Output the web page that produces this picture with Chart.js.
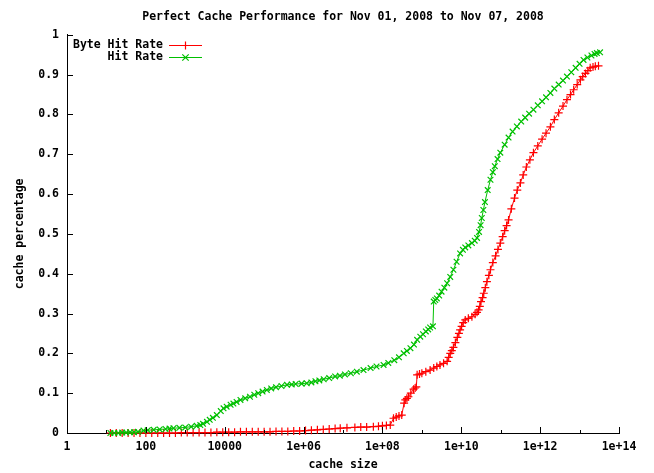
<!DOCTYPE html>
<html><head><meta charset="utf-8">
<script src="https://cdn.jsdelivr.net/npm/chart.js@4.4.1/dist/chart.umd.min.js"></script>
<style>html,body{margin:0;padding:0;background:#fff}#wrap{width:654px;height:473px}</style>
</head><body><div id="wrap"><canvas id="c" width="654" height="473"></canvas></div>
<script>
const chartTitle = 'Perfect Cache Performance for Nov 01, 2008 to Nov 07, 2008';
const xAxisTitle = 'cache size';
const yAxisTitle = 'cache percentage';
const seriesNames = ['Byte Hit Rate', 'Hit Rate'];

const xTickValues = [1,1e1,1e2,1e3,1e4,1e5,1e6,1e7,1e8,1e9,1e10,1e11,1e12,1e13,1e14];
const xTickLabels = ['1','','100','','10000','','1e+06','','1e+08','','1e+10','','1e+12','','1e+14'];
const yTickValues = [0,0.1,0.2,0.3,0.4,0.5,0.6,0.7,0.8,0.9,1];
const yTickLabels = ['0','0.1','0.2','0.3','0.4','0.5','0.6','0.7','0.8','0.9','1'];

const byteHitSize = [
  1.26e1,1.78e1,2.51e1,3.55e1,5.01e1,7.08e1,1e2,1.41e2,2e2,2.82e2,
  3.98e2,5.62e2,7.94e2,1.12e3,1.58e3,2.24e3,3.16e3,4.47e3,6.31e3,8.91e3,
  1.26e4,1.78e4,2.51e4,3.55e4,5.01e4,7.08e4,1e5,1.41e5,2e5,2.82e5,
  3.98e5,5.62e5,7.94e5,1.12e6,1.58e6,2.24e6,3.16e6,4.47e6,6.31e6,8.51e6,
  1.26e7,2e7,2.82e7,3.98e7,5.89e7,7.94e7,1e8,1.26e8,1.58e8,1.91e8,
  2.24e8,2.63e8,3.09e8,3.55e8,3.8e8,4.17e8,4.57e8,5.25e8,6.17e8,6.76e8,
  7.24e8,7.59e8,8.71e8,1e9,1.26e9,1.62e9,2e9,2.4e9,2.88e9,3.55e9,
  4.37e9,4.79e9,5.25e9,5.75e9,6.31e9,7.08e9,7.94e9,8.71e9,9.33e9,1.02e10,
  1.12e10,1.26e10,1.51e10,1.86e10,2.24e10,2.51e10,2.75e10,2.95e10,3.16e10,3.47e10,
  3.72e10,4.07e10,4.47e10,5.01e10,5.5e10,6.31e10,7.41e10,8.51e10,9.77e10,1.12e11,
  1.26e11,1.41e11,1.58e11,1.86e11,2.24e11,2.63e11,3.16e11,3.72e11,4.47e11,5.5e11,
  6.76e11,8.71e11,1.12e12,1.41e12,1.82e12,2.29e12,2.95e12,3.8e12,4.79e12,5.89e12,
  7.08e12,8.71e12,1.05e13,1.2e13,1.41e13,1.62e13,1.86e13,2.19e13,2.51e13,3.02e13];
const byteHitRate = [
  0,0,0,0,0,0,0,0,0,0,
  0,0,0.001,0.001,0.001,0.001,0.001,0.001,0.002,0.002,
  0.002,0.002,0.003,0.003,0.003,0.003,0.003,0.003,0.004,0.004,
  0.004,0.005,0.005,0.006,0.007,0.008,0.009,0.010,0.011,0.012,
  0.013,0.014,0.015,0.015,0.016,0.017,0.018,0.019,0.020,0.037,
  0.040,0.043,0.045,0.075,0.083,0.087,0.091,0.100,0.110,0.113,
  0.116,0.146,0.148,0.150,0.154,0.158,0.163,0.167,0.171,0.175,
  0.180,0.190,0.200,0.207,0.215,0.227,0.240,0.250,0.259,0.268,
  0.277,0.284,0.288,0.292,0.298,0.303,0.309,0.318,0.330,0.340,
  0.351,0.365,0.380,0.396,0.410,0.428,0.445,0.461,0.477,0.493,
  0.508,0.521,0.535,0.563,0.590,0.610,0.628,0.648,0.668,0.686,
  0.704,0.721,0.738,0.753,0.769,0.787,0.804,0.821,0.837,0.850,
  0.862,0.875,0.887,0.895,0.903,0.910,0.917,0.919,0.921,0.922];

const hitSize = [
  1.26e1,1.58e1,2e1,2.51e1,3.16e1,3.98e1,5.01e1,6.31e1,8.71e1,1.12e2,
  1.58e2,2.24e2,3.16e2,3.98e2,5.01e2,7.08e2,1e3,1.41e3,1.95e3,2.4e3,
  2.82e3,3.55e3,4.17e3,5.01e3,6.31e3,7.94e3,9.33e3,1.12e4,1.41e4,1.66e4,
  2e4,2.51e4,3.31e4,4.37e4,5.62e4,7.08e4,9.12e4,1.17e5,1.51e5,2e5,
  2.75e5,3.8e5,5.01e5,6.31e5,8.91e5,1.2e6,1.58e6,2e6,2.51e6,3.24e6,
  4.47e6,6.31e6,8.32e6,1.12e7,1.58e7,2.24e7,3.31e7,5.01e7,7.08e7,1.07e8,
  1.41e8,2e8,2.63e8,3.47e8,4.17e8,5.13e8,6.31e8,7.59e8,9.12e8,1.07e9,
  1.26e9,1.45e9,1.62e9,1.91e9,2e9,2.19e9,2.4e9,2.75e9,3.16e9,3.72e9,
  4.37e9,5.25e9,6.31e9,7.59e9,9.33e9,1.1e10,1.26e10,1.51e10,1.86e10,2.19e10,
  2.51e10,2.82e10,3.09e10,3.31e10,3.63e10,3.98e10,4.68e10,5.5e10,6.31e10,7.08e10,
  8.32e10,9.77e10,1.26e11,1.58e11,2e11,2.57e11,3.31e11,4.17e11,5.25e11,6.76e11,
  8.71e11,1.12e12,1.41e12,1.82e12,2.29e12,2.95e12,3.8e12,4.79e12,6.17e12,7.94e12,
  1e13,1.26e13,1.58e13,2e13,2.4e13,2.75e13,3.31e13];
const hitRate = [
  0,0,0,0.001,0.001,0.002,0.002,0.003,0.006,0.007,
  0.008,0.009,0.010,0.011,0.012,0.013,0.014,0.016,0.018,0.020,
  0.023,0.028,0.033,0.038,0.045,0.055,0.062,0.066,0.071,0.074,
  0.078,0.083,0.087,0.091,0.096,0.100,0.104,0.108,0.112,0.115,
  0.118,0.121,0.122,0.123,0.124,0.125,0.127,0.130,0.132,0.135,
  0.138,0.142,0.144,0.147,0.150,0.154,0.158,0.163,0.167,0.171,
  0.176,0.183,0.190,0.200,0.206,0.213,0.222,0.234,0.242,0.248,
  0.255,0.260,0.265,0.268,0.330,0.334,0.338,0.345,0.355,0.365,
  0.376,0.392,0.410,0.430,0.451,0.460,0.466,0.471,0.477,0.483,
  0.490,0.505,0.522,0.540,0.560,0.580,0.610,0.636,0.655,0.670,
  0.688,0.704,0.724,0.742,0.757,0.770,0.782,0.792,0.802,0.812,
  0.823,0.833,0.843,0.854,0.865,0.875,0.885,0.895,0.906,0.917,
  0.927,0.937,0.943,0.948,0.952,0.954,0.956];

const RED = 'rgb(255,0,0)';
const GREEN = 'rgb(0,192,0)';
const FONT = {family: '"DejaVu Sans Mono", "Liberation Mono", monospace', size: 11.5, weight: 'bold'};

function drawMarker(ctx, style, x, y, r) {
  ctx.beginPath();
  if (style === 'cross') {
    ctx.moveTo(x - r, y); ctx.lineTo(x + r, y);
    ctx.moveTo(x, y - r); ctx.lineTo(x, y + r);
  } else {
    const d = r * 0.8;
    ctx.moveTo(x - d, y - d); ctx.lineTo(x + d, y + d);
    ctx.moveTo(x - d, y + d); ctx.lineTo(x + d, y - d);
  }
  ctx.stroke();
}

const gnuplotDecor = {
  id: 'gnuplotDecor',
  afterDraw(chart) {
    const ctx = chart.ctx;
    const xs = chart.scales.x, ys = chart.scales.y;
    const a = chart.chartArea;
    ctx.save();
    ctx.lineWidth = 1;
    ctx.strokeStyle = '#000';
    xTickValues.forEach((v, i) => {
      const px = Math.round(xs.getPixelForValue(v)) + 0.5;
      const len = xTickLabels[i] ? 6 : 3;
      ctx.beginPath(); ctx.moveTo(px, a.bottom); ctx.lineTo(px, a.bottom - len); ctx.stroke();
    });
    yTickValues.forEach((v) => {
      const py = Math.round(ys.getPixelForValue(v)) + 0.5;
      ctx.beginPath(); ctx.moveTo(a.left, py); ctx.lineTo(a.left + 6, py); ctx.stroke();
    });
    const colors = [RED, GREEN];
    const styles = ['cross', 'crossRot'];
    const rows = [45, 57];
    ctx.font = 'bold 11.5px "DejaVu Sans Mono", "Liberation Mono", monospace';
    ctx.textAlign = 'right';
    ctx.textBaseline = 'middle';
    seriesNames.forEach((name, i) => {
      const y = rows[i];
      ctx.fillStyle = '#000';
      ctx.fillText(name, 163, y);
      ctx.strokeStyle = colors[i];
      ctx.lineWidth = 1.2;
      ctx.beginPath(); ctx.moveTo(169, y + 0.5); ctx.lineTo(202, y + 0.5); ctx.stroke();
      drawMarker(ctx, styles[i], 185.5, y + 0.5, 4);
    });
    ctx.restore();
  }
};

const ctx = document.getElementById('c').getContext('2d');
new Chart(ctx, {
  type: 'line',
  data: {
    datasets: [
      {
        label: seriesNames[0],
        data: byteHitSize.map((x, i) => ({x: x, y: byteHitRate[i]})),
        borderColor: RED, backgroundColor: RED,
        borderWidth: 1, pointStyle: 'cross', pointRadius: 4,
        pointBorderColor: RED, pointBorderWidth: 1.2,
        tension: 0, fill: false, clip: 8, order: 2
      },
      {
        label: seriesNames[1],
        data: hitSize.map((x, i) => ({x: x, y: hitRate[i]})),
        borderColor: GREEN, backgroundColor: GREEN,
        borderWidth: 1, pointStyle: 'crossRot', pointRadius: 4,
        pointBorderColor: GREEN, pointBorderWidth: 1.2,
        tension: 0, fill: false, clip: 8, order: 1
      }
    ]
  },
  options: {
    responsive: false,
    animation: false,
    devicePixelRatio: 1,
    layout: {padding: {left: 0, right: 35, top: 0, bottom: 0}},
    plugins: {
      legend: {display: false},
      tooltip: {enabled: false},
      title: {
        display: true, text: chartTitle, color: '#000', font: FONT,
        fullSize: false, padding: {top: 10, bottom: 11}
      }
    },
    scales: {
      x: {
        type: 'logarithmic', min: 1, max: 1e14,
        afterBuildTicks: (s) => { s.ticks = xTickValues.map(v => ({value: v})); },
        afterFit: (s) => { s.height = 40; },
        grid: {display: false, drawTicks: false},
        border: {display: true, color: '#000', width: 1},
        ticks: {
          callback: (v, i) => xTickLabels[i], autoSkip: false, maxRotation: 0, minRotation: 0,
          color: '#000', font: FONT, padding: 7
        },
        title: {display: true, text: xAxisTitle, color: '#000', font: FONT, padding: {top: 0, bottom: 1}}
      },
      y: {
        type: 'linear', min: 0, max: 1,
        afterBuildTicks: (s) => { s.ticks = yTickValues.map(v => ({value: v})); },
        afterFit: (s) => { s.width = 67; },
        grid: {display: false, drawTicks: false},
        border: {display: true, color: '#000', width: 1},
        ticks: {
          callback: (v, i) => yTickLabels[i], autoSkip: false,
          color: '#000', font: FONT, padding: 8
        },
        title: {display: true, text: yAxisTitle, color: '#000', font: FONT, padding: {top: 13, bottom: 0}}
      }
    }
  },
  plugins: [gnuplotDecor]
});
</script>
</body></html>
